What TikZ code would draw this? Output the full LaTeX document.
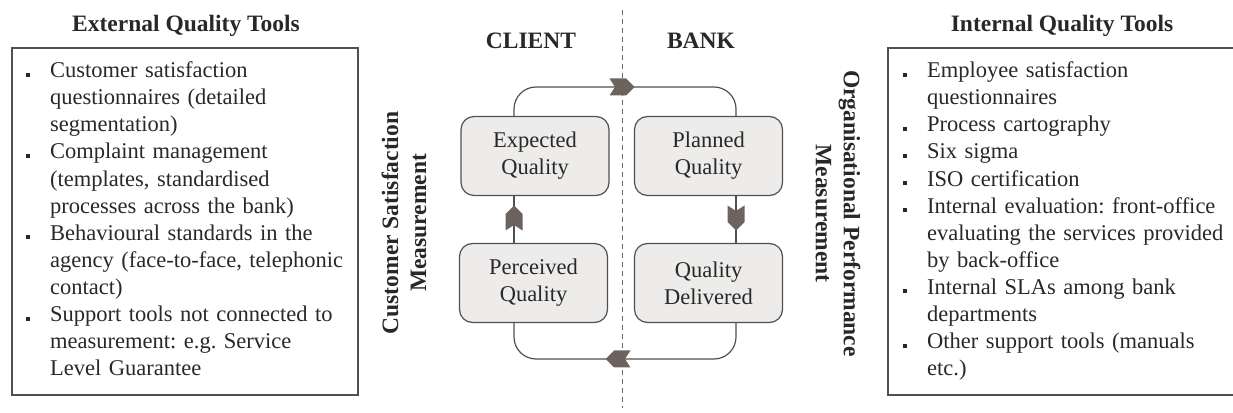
\documentclass[tikz,border=0pt]{standalone}
\usepackage{fontspec}
\setmainfont{Liberation Serif}
\usepackage{tikz}
\usetikzlibrary{positioning,calc}

\definecolor{boxfill}{RGB}{237,236,235}
\definecolor{arrowfill}{RGB}{110,98,94}
\definecolor{linegray}{RGB}{80,80,80}
\definecolor{txtgray}{RGB}{40,40,40}

% square bullet with hanging text
\newcommand{\bitem}[1]{\noindent\hangindent=24pt\hangafter=1%
  \makebox[24pt][l]{\raisebox{1pt}{\rule{4pt}{4pt}}}#1\par}

\begin{document}
\begin{tikzpicture}[x=1pt,y=1pt,
    body/.style={font=\fontsize{22.5}{27.1}\selectfont, text=txtgray},
    head/.style={font=\bfseries\fontsize{23.5}{28}\selectfont, text=txtgray},
    qbox/.style={draw=linegray, line width=1.2pt, fill=boxfill, rounded corners=13pt,
        minimum width=148pt, minimum height=79pt, align=center, body},
    toolbox/.style={draw=linegray, line width=1.4pt},
    flow/.style={draw=linegray, line width=1.2pt, rounded corners=22pt},
    chev/.pic={\fill[arrowfill] (-12.5,8.5) -- (4,8.5) -- (12.5,0) -- (4,-8.5) -- (-12.5,-8.5) -- (-7,0) -- cycle;}]
    \useasboundingbox (0,0) rectangle (1233,412);

    % dividing line
    \coordinate (div_t) at (622,402);
    \coordinate (div_b) at (622,4);
    \draw[linegray!85, line width=1pt, dash pattern=on 5pt off 4pt] (div_t) -- (div_b);

    \node[head, anchor=base]           (cl_t)  at (531,363.7)  {CLIENT};
    \node[head, anchor=base]           (bk_t)  at (701,363.7)  {BANK};

    \node[qbox]                        (exp_q) at (535,256)    {Expected\\Quality};
    \node[qbox]                        (pln_q) at (708.5,256)  {Planned\\Quality};
    \node[qbox]                        (per_q) at (533.5,129)  {Perceived\\Quality};
    \node[qbox]                        (del_q) at (708.5,129)  {Quality\\Delivered};

    \coordinate (lx) at (514,0);
    \coordinate (rx) at (736,0);
    \coordinate (up) at (0,325);
    \coordinate (dn) at (0,53);
    \draw[flow] (exp_q.north -| lx) -- (lx |- up) -- (rx |- up) -- (pln_q.north -| rx);
    \draw[flow] (del_q.south -| rx) -- (rx |- dn) -- (lx |- dn) -- (per_q.south -| lx);
    \draw[flow] (per_q.north -| lx) -- (exp_q.south -| lx);
    \draw[flow] (pln_q.south -| rx) -- (del_q.north -| rx);
    \pic at (622,325) {chev};
    \pic[rotate=180] at (618,53) {chev};
    \pic[rotate=90] at (514,194) {chev};
    \pic[rotate=-90] at (736,194) {chev};

    \node[head, rotate=90, align=center]  (css_l) at (404,189)   {Customer Satisfaction\\Measurement};
    \node[head, rotate=-90, align=center] (opm_l) at (838,198.5) {Organisational Performance\\Measurement};

    % tool lists
    \node[head, anchor=base]           (ext_t) at (186,380.3)  {External Quality Tools};
    \draw[toolbox] (12,17) rectangle (358,364);
    \node[body, text width=330pt, inner sep=0pt, anchor=base west] (ext_l) at (26,334.3) {\raggedright\frenchspacing%
      \bitem{Customer satisfaction\newline questionnaires (detailed\newline segmentation)}%
      \bitem{Complaint management\newline (templates, standardised\newline processes across the bank)}%
      \bitem{Behavioural standards in the\newline agency (face-to-face, telephonic\newline contact)}%
      \bitem{Support tools not connected to\newline measurement: e.g. Service\newline Level Guarantee}};

    \node[head, anchor=base]           (int_t) at (1062,380.3) {Internal Quality Tools};
    \draw[toolbox] (888,17) rectangle (1245,364);
    \node[body, text width=330pt, inner sep=0pt, anchor=base west] (int_l) at (903,334.3) {\raggedright\frenchspacing%
      \bitem{Employee satisfaction\newline questionnaires}%
      \bitem{Process cartography}%
      \bitem{Six sigma}%
      \bitem{ISO certification}%
      \bitem{Internal evaluation: front-office\newline evaluating the services provided\newline by back-office}%
      \bitem{Internal SLAs among bank\newline departments}%
      \bitem{Other support tools (manuals\newline etc.)}};
\end{tikzpicture}
\end{document}
